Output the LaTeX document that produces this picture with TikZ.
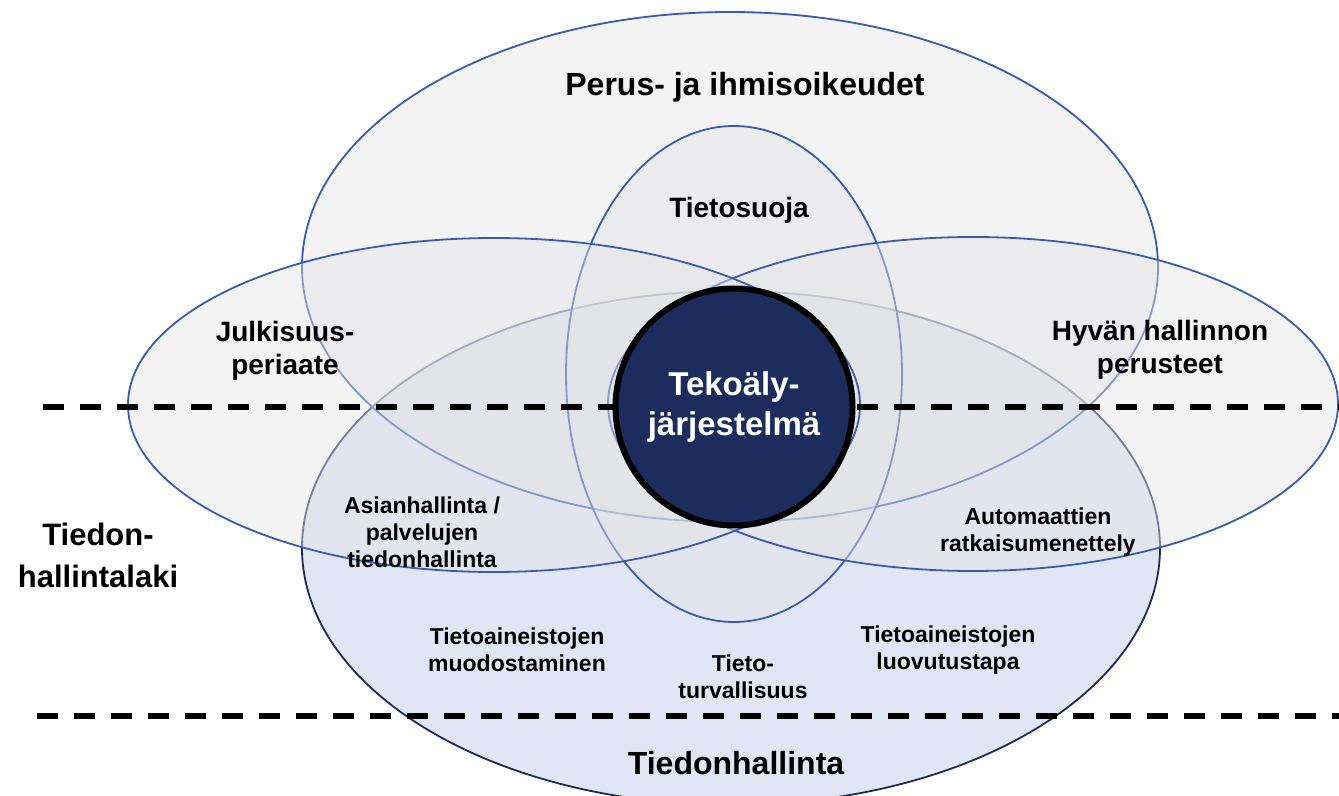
\documentclass[tikz,border=0pt]{standalone}
\usepackage{fontspec}
\setmainfont{Liberation Sans}
\usepackage{xcolor}
\usepackage{tikz}
\usetikzlibrary{positioning}

\definecolor{ringblue}{HTML}{3A5BB5}
\definecolor{ringgray}{HTML}{E4E4E6}
\definecolor{lawblue}{HTML}{E1E6F5}
\definecolor{lawline}{HTML}{1F2A5C}
\definecolor{corenavy}{HTML}{1C2C5C}

\tikzset{
    ring/.style={draw=ringblue, line width=0.9pt, fill=ringgray, fill opacity=0.45},
    label/.style={font=\bfseries\fontsize{14}{16.5}\selectfont, align=center, text opacity=1},
    small/.style={font=\bfseries\fontsize{11.5}{13.5}\selectfont, align=center},
    big/.style={font=\bfseries\fontsize{16}{19}\selectfont, align=center},
    border/.style={line width=2.6pt, dash pattern=on 10.5pt off 8pt}
}

\begin{document}
\begin{tikzpicture}[x=0.5pt, y=-0.5pt]
    \useasboundingbox (0,0) rectangle (1339,796);

    % Areas
    \draw[draw=lawline, line width=0.9pt, fill=lawblue] (731,548) ellipse [x radius=429, y radius=257];
    \draw[ring] (730,267) ellipse [x radius=428, y radius=255];
    \draw[ring] (734,374) ellipse [x radius=168, y radius=248];
    \draw[ring] (973,404) ellipse [x radius=365, y radius=167];
    \draw[ring] (494,405) ellipse [x radius=366, y radius=167];

    % Dashed borders
    \coordinate (upA) at (43,407);
    \coordinate (upB) at (1339,407);
    \coordinate (lowA) at (37,716);
    \coordinate (lowB) at (1339,716);
    \draw[border] (upA) -- (upB);
    \draw[border] (lowA) -- (lowB);

    % Core
    \node[circle, draw=black, line width=3pt, fill=corenavy, minimum size=237*0.5pt, inner sep=0pt,
          text=white, font=\bfseries\fontsize{16.5}{20}\selectfont, align=center] (core) at (734,407) {Tekoäly-\\järjestelmä};

    % Labels
    \node[big] (rights) at (745,87) {Perus- ja ihmisoikeudet};
    \node[label] (privacy) at (739,210) {Tietosuoja};
    \node[label] (publicity) at (285,351) {Julkisuus-\\periaate};
    \node[label] (goodadmin) at (1160,350) {Hyvän hallinnon\\perusteet};
    \node[small] (records) at (422,532) {Asianhallinta /\\palvelujen\\tiedonhallinta};
    \node[small] (automated) at (1038,532) {Automaattien\\ratkaisumenettely};
    \node[small] (forming) at (517,650) {Tietoaineistojen\\muodostaminen};
    \node[small] (disclosure) at (948,650) {Tietoaineistojen\\luovutustapa};
    \node[small] (security) at (743,677) {Tieto-\\turvallisuus};
    \node[big] (infomgmt) at (736,763) {Tiedonhallinta};
    \node[font=\bfseries\fontsize{15.5}{21}\selectfont, align=center] (act) at (98,555) {Tiedon-\\hallintalaki};

\end{tikzpicture}
\end{document}
